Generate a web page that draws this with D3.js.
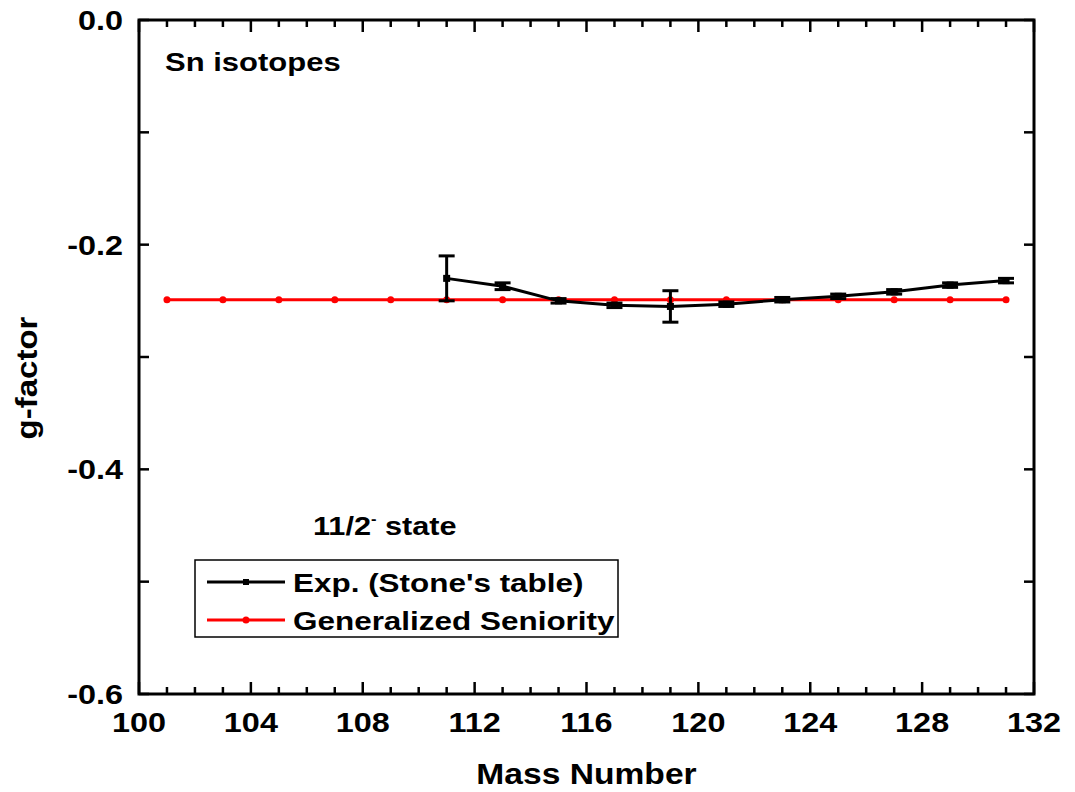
<!DOCTYPE html>
<html>
<head>
<meta charset="utf-8">
<script src="https://cdn.jsdelivr.net/npm/d3@7"></script>
<style>
  html, body { margin: 0; padding: 0; background: #fff; }
  text { font-family: "Liberation Sans", Arial, sans-serif; font-weight: bold; fill: #000; }
</style>
</head>
<body>
<div id="chart"></div>
<script>
// experimental g-factors of the 11/2- state (Stone's table)
var massExp = [111, 113, 115, 117, 119, 121, 123, 125, 127, 129, 131];
var gExp    = [-0.230, -0.237, -0.250, -0.254, -0.255, -0.253, -0.249, -0.246, -0.242, -0.236, -0.232];
var gErr    = [0.020, 0.003, 0.002, 0.002, 0.014, 0.002, 0.002, 0.002, 0.002, 0.002, 0.002];

// generalized seniority prediction
var massGS = [101, 103, 105, 107, 109, 111, 113, 115, 117, 119, 121, 123, 125, 127, 129, 131];
var gGS    = [-0.249, -0.249, -0.249, -0.249, -0.249, -0.249, -0.249, -0.249, -0.249, -0.249, -0.249, -0.249, -0.249, -0.249, -0.249, -0.249];

var xMajor = [100, 104, 108, 112, 116, 120, 124, 128, 132];
var xMinor = [101, 102, 103, 105, 106, 107, 109, 110, 111, 113, 114, 115, 117, 118, 119, 121, 122, 123, 125, 126, 127, 129, 130, 131];
var yMajor = [0.0, -0.2, -0.4, -0.6];
var yMinor = [-0.1, -0.3, -0.5];

var W = 1075, H = 792;
var margin = {top: 20, right: 41, bottom: 98, left: 139};
var width = W - margin.left - margin.right,
    height = H - margin.top - margin.bottom;

var svg = d3.select("#chart").append("svg")
    .attr("width", W)
    .attr("height", H);

var g = svg.append("g").attr("transform", "translate(" + margin.left + "," + margin.top + ")");

var x = d3.scaleLinear().domain([100, 132]).range([0, width]);
var y = d3.scaleLinear().domain([-0.6, 0.0]).range([height, 0]);

// plain hyphen for negative numbers
var fmtY = function(v) { return d3.format(".1f")(v).replace("\u2212", "-"); };

// text is a bit wider than plain Arial, so stretch it horizontally
function label(sel, px, sx, tx, ty, anchor, str) {
    return sel.append("text")
        .attr("transform", "translate(" + tx + "," + ty + ") scale(" + sx + ",1)")
        .attr("text-anchor", anchor || "start")
        .style("font-size", px + "px")
        .text(str);
}

// inward ticks on all four sides
function ticks(axis, vals, len) {
    vals.forEach(function(v) {
        if (axis == "x") {
            g.append("line").attr("x1", x(v)).attr("x2", x(v)).attr("y1", height).attr("y2", height - len)
                .attr("stroke", "#000").attr("stroke-width", 2.5);
            g.append("line").attr("x1", x(v)).attr("x2", x(v)).attr("y1", 0).attr("y2", len)
                .attr("stroke", "#000").attr("stroke-width", 2.5);
        } else {
            g.append("line").attr("y1", y(v)).attr("y2", y(v)).attr("x1", 0).attr("x2", len)
                .attr("stroke", "#000").attr("stroke-width", 2.5);
            g.append("line").attr("y1", y(v)).attr("y2", y(v)).attr("x1", width).attr("x2", width - len)
                .attr("stroke", "#000").attr("stroke-width", 2.5);
        }
    });
}
ticks("x", xMajor, 12);
ticks("x", xMinor, 7);
ticks("y", yMajor, 10);
ticks("y", yMinor, 10);

// tick labels
xMajor.forEach(function(v) {
    label(g, 27, 1.2, x(v), height + 38, "middle", d3.format("d")(v));
});
yMajor.forEach(function(v) {
    label(g, 27, 1.2, -16, y(v) + 10, "end", v == 0 ? "0.0" : fmtY(v));
});

// axis titles
label(svg, 30, 1.12, margin.left + width / 2, 784, "middle", "Mass Number");
svg.append("text")
    .attr("transform", "translate(37,378) rotate(-90) scale(1.1,1)")
    .attr("text-anchor", "middle")
    .style("font-size", "30px")
    .text("g-factor");

// generalized seniority line
var lineGS = d3.line()
    .x(function(d, i) { return x(massGS[i]); })
    .y(function(d) { return y(d); });

g.append("path")
    .datum(gGS)
    .attr("d", lineGS)
    .attr("fill", "none")
    .attr("stroke", "#ff0000")
    .attr("stroke-width", 3);

g.selectAll(".gsDot")
    .data(gGS)
    .enter().append("circle")
    .attr("class", "gsDot")
    .attr("cx", function(d, i) { return x(massGS[i]); })
    .attr("cy", function(d) { return y(d); })
    .attr("r", 3.5)
    .attr("fill", "#ff0000");

// experimental line, error bars and markers
var lineExp = d3.line()
    .x(function(d, i) { return x(massExp[i]); })
    .y(function(d) { return y(d); });

g.append("path")
    .datum(gExp)
    .attr("d", lineExp)
    .attr("fill", "none")
    .attr("stroke", "#000")
    .attr("stroke-width", 3);

var err = g.selectAll(".err")
    .data(gExp)
    .enter().append("g")
    .attr("class", "err");

err.append("line")
    .attr("x1", function(d, i) { return x(massExp[i]); })
    .attr("x2", function(d, i) { return x(massExp[i]); })
    .attr("y1", function(d, i) { return y(d + gErr[i]); })
    .attr("y2", function(d, i) { return y(d - gErr[i]); })
    .attr("stroke", "#000").attr("stroke-width", 3);

[1, -1].forEach(function(s) {
    err.append("line")
        .attr("x1", function(d, i) { return x(massExp[i]) - 8; })
        .attr("x2", function(d, i) { return x(massExp[i]) + 8; })
        .attr("y1", function(d, i) { return y(d + s * gErr[i]); })
        .attr("y2", function(d, i) { return y(d + s * gErr[i]); })
        .attr("stroke", "#000").attr("stroke-width", 3);
});

err.append("rect")
    .attr("x", function(d, i) { return x(massExp[i]) - 3.5; })
    .attr("y", function(d) { return y(d) - 3.5; })
    .attr("width", 7).attr("height", 7)
    .attr("fill", "#000");

// frame
g.append("rect")
    .attr("width", width).attr("height", height)
    .attr("fill", "none")
    .attr("stroke", "#000")
    .attr("stroke-width", 3);

// annotations
label(svg, 25, 1.24, 165, 71, "start", "Sn isotopes");
var st = label(svg, 26, 1.18, 313, 535, "start", "");
st.append("tspan").text("11/2");
st.append("tspan").attr("dy", -11).style("font-size", "14px").text("-");
st.append("tspan").attr("dy", 11).text(" state");

// legend
var leg = svg.append("g");
leg.append("rect")
    .attr("x", 195).attr("y", 560).attr("width", 423).attr("height", 77)
    .attr("fill", "#fff").attr("stroke", "#000").attr("stroke-width", 1.5);

var legItems = [
    {name: "Exp. (Stone's table)", color: "#000", shape: "square"},
    {name: "Generalized Seniority", color: "#ff0000", shape: "circle"}
];
legItems.forEach(function(d, i) {
    var yy = 582 + i * 38;
    leg.append("line").attr("x1", 207).attr("x2", 285).attr("y1", yy).attr("y2", yy)
        .attr("stroke", d.color).attr("stroke-width", 3);
    if (d.shape == "square") {
        leg.append("rect").attr("x", 243).attr("y", yy - 3).attr("width", 6).attr("height", 6).attr("fill", d.color);
    } else {
        leg.append("circle").attr("cx", 246).attr("cy", yy).attr("r", 3.5).attr("fill", d.color);
    }
    label(leg, 26, 1.21, 293, yy + 10, "start", d.name);
});
</script>
</body>
</html>
